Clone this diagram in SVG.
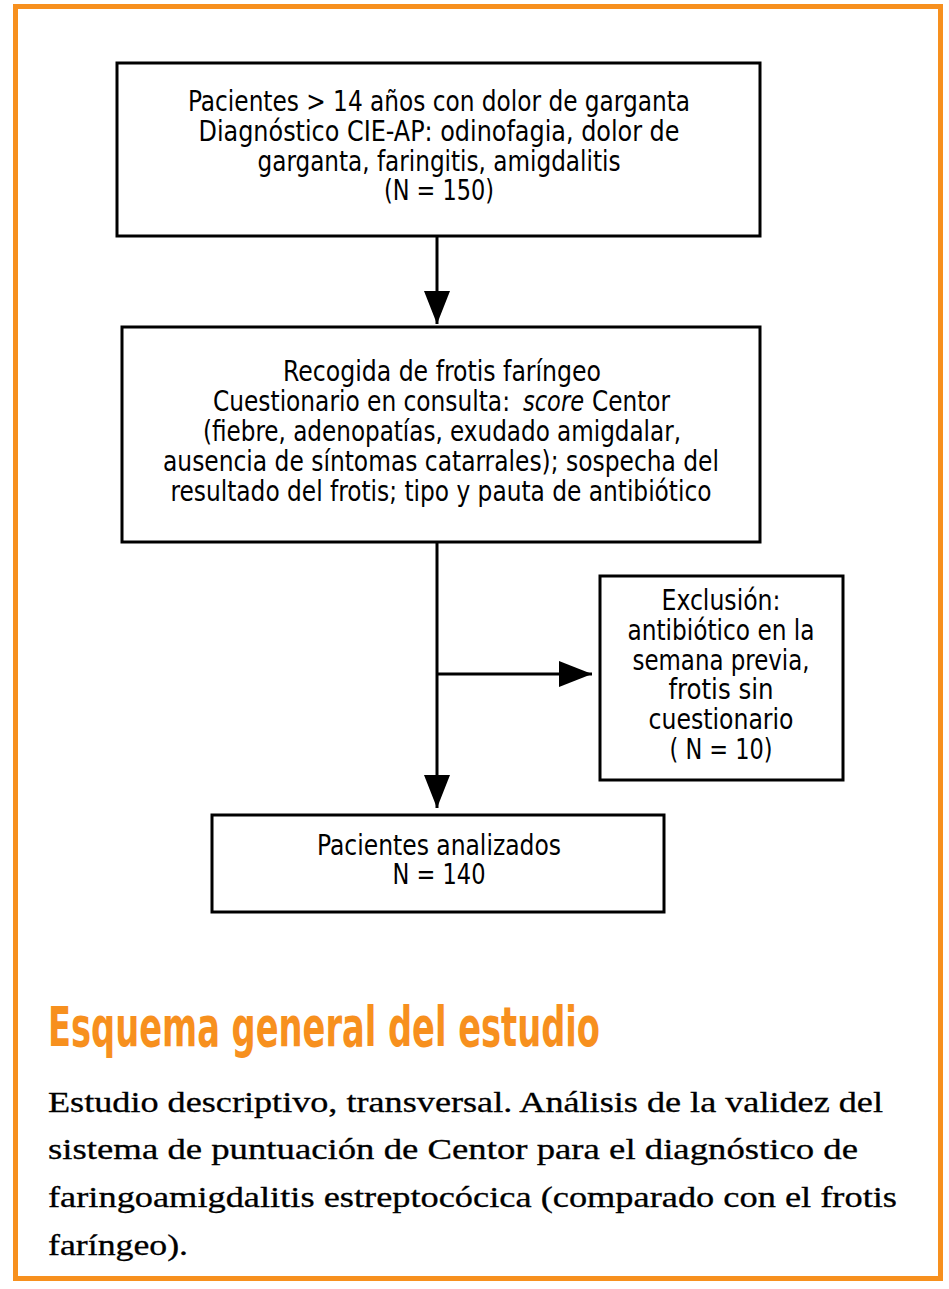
<svg xmlns="http://www.w3.org/2000/svg" width="949" height="1289" viewBox="0 0 949 1289">
<style>
.frame{fill:none;stroke:#F7901E;stroke-width:5}
.box{fill:#fff;stroke:#000;stroke-width:3}
.t{font-family:"Liberation Sans Narrow","DejaVu Sans Condensed","Liberation Sans",sans-serif;font-size:27.5px;fill:#000;text-anchor:middle}
.s{text-anchor:start}
.title{font-family:"Liberation Sans Narrow","DejaVu Sans Condensed","Liberation Sans",sans-serif;font-weight:bold;font-size:56px;fill:#F7901E}
.body{font-family:"Liberation Serif","DejaVu Serif",serif;font-size:29px;fill:#000;stroke:#000;stroke-width:0.3}
.conn{stroke:#000;stroke-width:3;fill:none}
</style>
<defs>
<marker id="ah" markerUnits="userSpaceOnUse" markerWidth="34" markerHeight="28" refX="33" refY="14" orient="auto">
<path d="M0,1 L33,14 L0,27 z" fill="#000"/>
</marker>
</defs>
<rect class="frame" x="15.5" y="6.5" width="925" height="1272"/>

<g id="connectors">
<line class="conn" x1="437" y1="237" x2="437" y2="324" marker-end="url(#ah)"/>
<line class="conn" x1="437" y1="543" x2="437" y2="808" marker-end="url(#ah)"/>
<line class="conn" x1="437" y1="674" x2="592" y2="674" marker-end="url(#ah)"/>
</g>

<g id="n1">
<rect class="box" x="117" y="63" width="643" height="173"/>
<text class="t" x="439" y="111" textLength="502" lengthAdjust="spacingAndGlyphs">Pacientes &gt; 14 años con dolor de garganta</text>
<text class="t" x="439" y="141" textLength="481" lengthAdjust="spacingAndGlyphs">Diagnóstico CIE-AP: odinofagia, dolor de</text>
<text class="t" x="439" y="171" textLength="363" lengthAdjust="spacingAndGlyphs">garganta, faringitis, amigdalitis</text>
<text class="t" x="439" y="200" textLength="110" lengthAdjust="spacingAndGlyphs">(N = 150)</text>
</g>

<g id="n2">
<rect class="box" x="122" y="327" width="638" height="215"/>
<text class="t" x="442" y="381" textLength="318" lengthAdjust="spacingAndGlyphs">Recogida de frotis faríngeo</text>
<text class="t s" x="213" y="411" textLength="297" lengthAdjust="spacingAndGlyphs">Cuestionario en consulta:</text>
<text class="t s" x="523" y="411" textLength="61" lengthAdjust="spacingAndGlyphs" font-style="italic">score</text>
<text class="t s" x="592" y="411" textLength="78" lengthAdjust="spacingAndGlyphs">Centor</text>
<text class="t" x="442" y="441" textLength="478" lengthAdjust="spacingAndGlyphs">(fiebre, adenopatías, exudado amigdalar,</text>
<text class="t" x="441" y="471" textLength="556" lengthAdjust="spacingAndGlyphs">ausencia de síntomas catarrales); sospecha del</text>
<text class="t" x="441" y="501" textLength="541" lengthAdjust="spacingAndGlyphs">resultado del frotis; tipo y pauta de antibiótico</text>
</g>

<g id="n3">
<rect class="box" x="600" y="576" width="243" height="204"/>
<text class="t" x="721" y="610" textLength="119" lengthAdjust="spacingAndGlyphs">Exclusión:</text>
<text class="t" x="721" y="640" textLength="187" lengthAdjust="spacingAndGlyphs">antibiótico en la</text>
<text class="t" x="721" y="670" textLength="177" lengthAdjust="spacingAndGlyphs">semana previa,</text>
<text class="t" x="721" y="699" textLength="105" lengthAdjust="spacingAndGlyphs">frotis sin</text>
<text class="t" x="721" y="729" textLength="145" lengthAdjust="spacingAndGlyphs">cuestionario</text>
<text class="t" x="721" y="759" textLength="103" lengthAdjust="spacingAndGlyphs">( N = 10)</text>
</g>

<g id="n4">
<rect class="box" x="212" y="815" width="452" height="97"/>
<text class="t" x="439" y="855" textLength="244" lengthAdjust="spacingAndGlyphs">Pacientes analizados</text>
<text class="t" x="439" y="884" textLength="93" lengthAdjust="spacingAndGlyphs">N = 140</text>
</g>

<text class="title" x="48" y="1046" textLength="552" lengthAdjust="spacingAndGlyphs">Esquema general del estudio</text>
<text class="body" x="48" y="1112" textLength="835" lengthAdjust="spacingAndGlyphs">Estudio descriptivo, transversal. Análisis de la validez del</text>
<text class="body" x="48" y="1159" textLength="810" lengthAdjust="spacingAndGlyphs">sistema de puntuación de Centor para el diagnóstico de</text>
<text class="body" x="48" y="1207" textLength="849" lengthAdjust="spacingAndGlyphs">faringoamigdalitis estreptocócica (comparado con el frotis</text>
<text class="body" x="48" y="1255" textLength="140" lengthAdjust="spacingAndGlyphs">faríngeo).</text>
</svg>
